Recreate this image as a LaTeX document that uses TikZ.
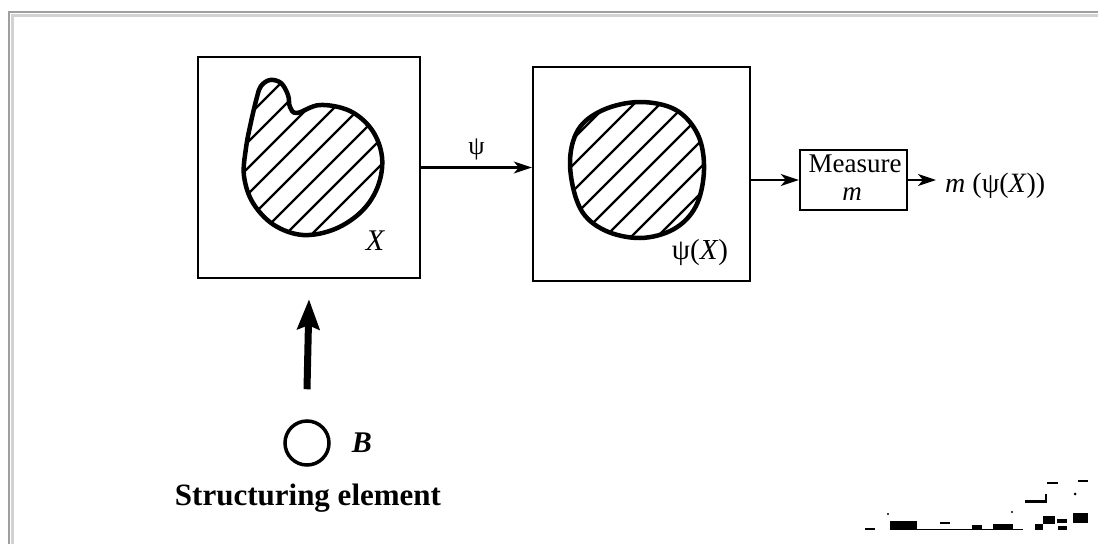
\documentclass[tikz,border=0pt]{standalone}
\usepackage{fontspec}
\setmainfont{Liberation Serif}
\usetikzlibrary{arrows.meta,calc}
\tikzset{
  box/.style={draw=black, line width=2.4pt, rectangle, inner sep=0pt},
  blobline/.style={line width=4.5pt, line join=round},
  hatch/.style={line width=2.2pt},
  conn/.style={line width=2.2pt, -{Stealth[length=18pt,width=12pt,inset=5pt]}},
  bigarrow/.style={line width=7pt, -{Stealth[length=30pt,width=22pt,inset=4pt]}},
  lbl/.style={inner sep=0pt},
  artifact/.style={fill=black, draw=none},
}
\begin{document}
\begin{tikzpicture}[x=1pt,y=-1pt]
\useasboundingbox (0,0) rectangle (1098,544);
% page frame
\draw[gray!35, line width=3pt] (12,544) -- (12,15) -- (1098,15);
\draw[gray!75, line width=2.5pt] (9,544) -- (9,12) -- (1098,12);

% boxes
\node[box, minimum width=222pt, minimum height=221pt] (box1) at (309,167.5) {};
\node[box, minimum width=217pt, minimum height=214pt] (box2) at (641.5,174) {};
\node[box, minimum width=107pt, minimum height=60pt] (meas) at (853.5,180) {};

% blob X
\begin{scope}
  \clip plot[smooth cycle, tension=0.6] coordinates {(257,97) (261,86) (270,80) (281,83) (288,95) (290,107) (297,113) (320,105) (350,111) (372,130) (382,157) (378,186) (362,211) (335,229) (303,235) (274,225) (253,203) (244,176) (246,148) (251,122)};
  \foreach \c in {338,364,...,600} \draw[hatch] (\c-300,300) -- (\c,0);
\end{scope}
\draw[blobline] plot[smooth cycle, tension=0.6] coordinates {(257,97) (261,86) (270,80) (281,83) (288,95) (290,107) (297,113) (320,105) (350,111) (372,130) (382,157) (378,186) (362,211) (335,229) (303,235) (274,225) (253,203) (244,176) (246,148) (251,122)};

% blob psi(X)
\begin{scope}
  \clip plot[smooth cycle, tension=0.6] coordinates {(570,165) (578,130) (603,110) (640,102) (676,110) (698,135) (704,170) (696,206) (674,229) (640,238) (604,230) (580,208)};
  \foreach \c in {712,738,...,920} \draw[hatch] (\c-400,400) -- (\c,0);
\end{scope}
\draw[blobline] plot[smooth cycle, tension=0.6] coordinates {(570,165) (578,130) (603,110) (640,102) (676,110) (698,135) (704,170) (696,206) (674,229) (640,238) (604,230) (580,208)};

% labels in boxes
\node[lbl, font=\fontsize{30}{32}\selectfont\itshape] (xl) at (375,241) {X};
\node[lbl, font=\fontsize{29}{31}\selectfont] (psixl) at (700,253) {ψ(\textit{X})};
\node[lbl, font=\fontsize{27}{29}\selectfont, anchor=base] (measl) at (855,172) {Measure};
\node[lbl, font=\fontsize{27}{29}\selectfont\itshape, anchor=base] (ml) at (852,200) {m};

% output
\node[lbl, font=\fontsize{28}{30}\selectfont, anchor=west] (out) at (945,186) {\textit{m} (ψ(\textit{X}))};

% connectors
\draw[conn] (box1.east) -- (box1.east -| box2.west) node[midway, above=6pt, lbl, font=\fontsize{26}{28}\selectfont] (psil) {ψ};
\draw[conn] (box2.east |- meas.west) -- (meas.west);
\draw[conn, shorten >=9pt] (meas.east) -- (meas.east -| out.west);

% structuring element
\node[draw, circle, line width=3.5pt, minimum size=44pt, inner sep=0pt] (se) at (307,443) {};
\node[lbl, font=\fontsize{30}{32}\selectfont\bfseries\itshape] (bl) at (362,443) {B};
\node[lbl, font=\fontsize{31}{33}\selectfont\bfseries, anchor=base] (sel) at (308,505) {Structuring element};
\draw[bigarrow] ([yshift=30pt]se.north) -- ([yshift=-20pt]box1.south);

% scan artifacts
\fill[artifact] (865,528) rectangle (875,530);
\fill[artifact] (890,521) rectangle (917,530);
\fill[artifact] (940,522) rectangle (950,524);
\fill[artifact] (972,525) rectangle (982,530);
\fill[artifact] (993,524) rectangle (1013,530);
\fill[artifact] (897,528.5) rectangle (1023,530);
\fill[artifact] (1025,500) rectangle (1047,503);
\fill[artifact] (1045,494) rectangle (1047,503);
\fill[artifact] (1047,482) rectangle (1058,484);
\fill[artifact] (1078,480) rectangle (1088,482);
\fill[artifact] (1035,524) rectangle (1043,530);
\fill[artifact] (1043,516) rectangle (1055,524);
\fill[artifact] (1057,519) rectangle (1067,523);
\fill[artifact] (1058,526) rectangle (1067,530);
\fill[artifact] (1073,513) rectangle (1088,523);
\fill[artifact] (888,514) circle (1.2);
\fill[artifact] (1012,512) circle (1.2);
\fill[artifact] (1075,494) circle (1.5);
\end{tikzpicture}
\end{document}
